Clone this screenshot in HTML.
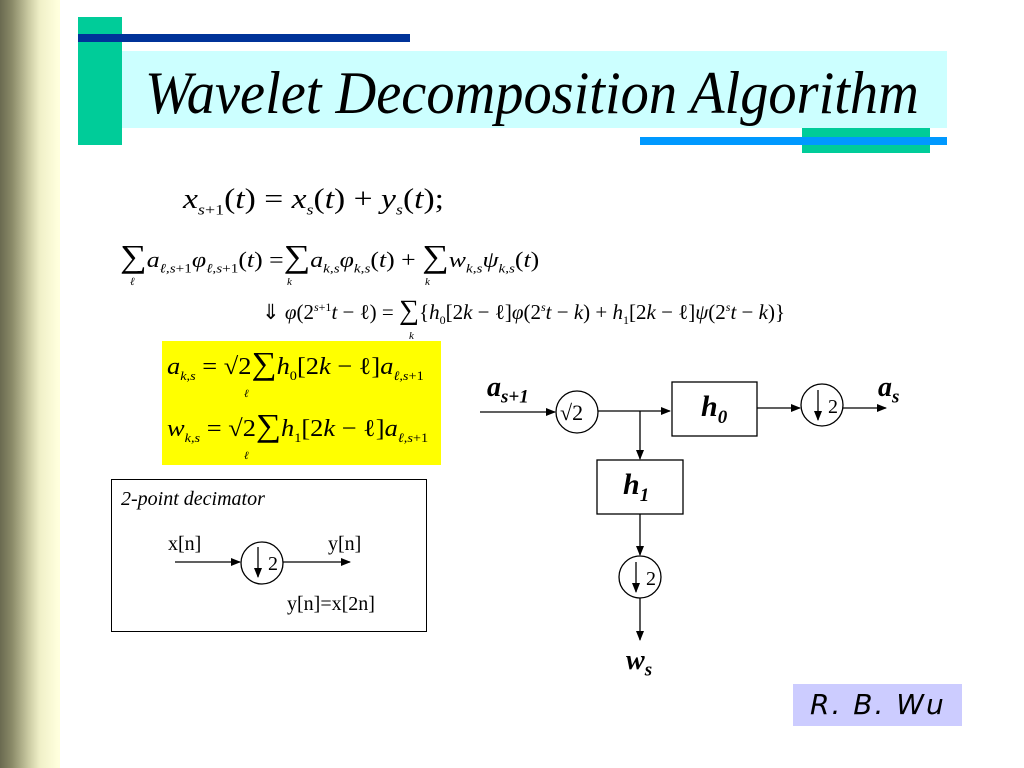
<!DOCTYPE html>
<html><head><style>
body{margin:0;width:1024px;height:768px;position:relative;background:#fff;overflow:hidden;font-family:"Liberation Serif",serif}
.a{position:absolute}
.m{font-style:italic;white-space:nowrap}
.s{transform-origin:0 0}
</style></head><body>
<div class="a" style="left:0;top:0;width:60px;height:768px;background:linear-gradient(to right,#6a6a50 0px,#8a8a68 12px,#c8c8a0 28px,#f0f0c8 40px,#ffffdd 58px)"></div>
<div class="a" style="left:78px;top:17px;width:44px;height:128px;background:#00cc99"></div>
<div class="a" style="left:78px;top:34px;width:332px;height:8px;background:#003399"></div>
<div class="a" style="left:122px;top:51px;width:825px;height:77px;background:#ccffff"></div>
<div class="a m s" style="left:145px;top:54px;font-size:60px;line-height:78px;transform:scaleX(0.94)">Wavelet Decomposition Algorithm</div>
<div class="a" style="left:802px;top:128px;width:128px;height:25px;background:#00cc99"></div>
<div class="a" style="left:640px;top:137px;width:307px;height:8px;background:#0099ff"></div>

<div class="a s" style="left:183px;top:184px;font-size:28px;white-space:nowrap;transform:scaleX(1.2)"><i>x</i><sub style="font-size:15px"><i>s</i>+1</sub>(<i>t</i>) = <i>x<sub style="font-size:15px">s</sub></i>(<i>t</i>) + <i>y<sub style="font-size:15px">s</sub></i>(<i>t</i>);</div>
<div class="a s" style="left:120px;top:238px;font-size:22px;white-space:nowrap;transform:scaleX(1.17)"><span style="font-size:32px">∑</span><i>a</i><sub style="font-size:13px"><i>ℓ,s</i>+1</sub><i>φ</i><sub style="font-size:13px"><i>ℓ,s</i>+1</sub>(<i>t</i>) =<span style="font-size:32px">∑</span><i>a</i><sub style="font-size:13px"><i>k,s</i></sub><i>φ</i><sub style="font-size:13px"><i>k,s</i></sub>(<i>t</i>) + <span style="font-size:32px">∑</span><i>w</i><sub style="font-size:13px"><i>k,s</i></sub><i>ψ</i><sub style="font-size:13px"><i>k,s</i></sub>(<i>t</i>)</div>
<div class="a m" style="left:130px;top:276px;font-size:11px">ℓ</div>
<div class="a m" style="left:287px;top:276px;font-size:11px">k</div>
<div class="a m" style="left:425px;top:276px;font-size:11px">k</div>
<div class="a" style="left:262px;top:295px;font-size:21px;white-space:nowrap">⇓ <i>φ</i>(2<sup style="font-size:12px"><i>s</i>+1</sup><i>t</i> − ℓ) = <span style="font-size:28px">∑</span>{<i>h</i><sub style="font-size:12px">0</sub>[2<i>k</i> − ℓ]<i>φ</i>(2<sup style="font-size:12px"><i>s</i></sup><i>t</i> − <i>k</i>) + <i>h</i><sub style="font-size:12px">1</sub>[2<i>k</i> − ℓ]<i>ψ</i>(2<sup style="font-size:12px"><i>s</i></sup><i>t</i> − <i>k</i>)}</div>
<div class="a m" style="left:409px;top:330px;font-size:11px">k</div>

<div class="a" style="left:162px;top:341px;width:279px;height:124px;background:#ffff00"></div>
<div class="a s" style="left:167px;top:345px;font-size:24px;white-space:nowrap;transform:scaleX(1.1)"><i>a</i><sub style="font-size:13px"><i>k,s</i></sub> = √2<span style="font-size:32px">∑</span><i>h</i><sub style="font-size:13px">0</sub>[2<i>k</i> − ℓ]<i>a</i><sub style="font-size:13px"><i>ℓ,s</i>+1</sub></div>
<div class="a m" style="left:244px;top:388px;font-size:11px">ℓ</div>
<div class="a s" style="left:167px;top:407px;font-size:24px;white-space:nowrap;transform:scaleX(1.1)"><i>w</i><sub style="font-size:13px"><i>k,s</i></sub> = √2<span style="font-size:32px">∑</span><i>h</i><sub style="font-size:13px">1</sub>[2<i>k</i> − ℓ]<i>a</i><sub style="font-size:13px"><i>ℓ,s</i>+1</sub></div>
<div class="a m" style="left:244px;top:450px;font-size:11px">ℓ</div>

<div class="a" style="left:111px;top:479px;width:314px;height:151px;border:1px solid #000"></div>
<div class="a m" style="left:121px;top:488px;font-size:20px">2-point decimator</div>
<div class="a" style="left:168px;top:533px;font-size:20px">x[n]</div>
<div class="a" style="left:328px;top:533px;font-size:20px">y[n]</div>
<div class="a" style="left:287px;top:593px;font-size:20px">y[n]=x[2n]</div>

<svg class="a" style="left:0;top:0" width="1024" height="768">
<defs><marker id="ar" markerWidth="10" markerHeight="8" refX="9" refY="4" orient="auto" markerUnits="userSpaceOnUse"><path d="M0,0L10,4L0,8z" fill="#000"/></marker></defs>
<g stroke="#000" stroke-width="1.3" fill="none">
<line x1="175" y1="562" x2="240" y2="562" marker-end="url(#ar)"/>
<circle cx="262" cy="563" r="21" fill="#fff"/>
<line x1="283" y1="562" x2="350" y2="562" marker-end="url(#ar)"/>
<line x1="258" y1="547" x2="258" y2="577" marker-end="url(#ar)"/>
<line x1="480" y1="412" x2="555" y2="412" marker-end="url(#ar)"/>
<circle cx="577" cy="412" r="21" fill="#fff"/>
<line x1="598" y1="411" x2="670" y2="411" marker-end="url(#ar)"/>
<rect x="672" y="382" width="85" height="54" fill="#fff"/>
<line x1="757" y1="408" x2="800" y2="408" marker-end="url(#ar)"/>
<circle cx="822" cy="405" r="21" fill="#fff"/>
<line x1="818" y1="390" x2="818" y2="420" marker-end="url(#ar)"/>
<line x1="843" y1="408" x2="886" y2="408" marker-end="url(#ar)"/>
<line x1="640" y1="411" x2="640" y2="459" marker-end="url(#ar)"/>
<rect x="597" y="460" width="86" height="54" fill="#fff"/>
<line x1="640" y1="514" x2="640" y2="555" marker-end="url(#ar)"/>
<circle cx="640" cy="577" r="21" fill="#fff"/>
<line x1="636" y1="562" x2="636" y2="592" marker-end="url(#ar)"/>
<line x1="640" y1="598" x2="640" y2="640" marker-end="url(#ar)"/>
</g>
<text x="268" y="570" font-family="Liberation Serif" font-size="20">2</text>
<text x="828" y="413" font-family="Liberation Serif" font-size="20">2</text>
<text x="646" y="585" font-family="Liberation Serif" font-size="20">2</text>
<text x="560" y="420" font-family="Liberation Serif" font-size="22">√2</text>
</svg>
<div class="a m" style="left:487px;top:372px;font-size:28px;font-weight:bold">a<sub style="font-size:19px">s+1</sub></div>
<div class="a m" style="left:701px;top:390px;font-size:30px;font-weight:bold">h<sub style="font-size:19px">0</sub></div>
<div class="a m" style="left:878px;top:372px;font-size:28px;font-weight:bold">a<sub style="font-size:19px">s</sub></div>
<div class="a m" style="left:623px;top:468px;font-size:30px;font-weight:bold">h<sub style="font-size:19px">1</sub></div>
<div class="a m" style="left:626px;top:645px;font-size:28px;font-weight:bold">w<sub style="font-size:19px">s</sub></div>
<div class="a" style="left:793px;top:684px;width:169px;height:42px;background:#ccccff"></div>
<div class="a m" style="left:810px;top:688px;font-size:28px;font-family:'DejaVu Sans',sans-serif;letter-spacing:2px">R. B. Wu</div>
</body></html>
